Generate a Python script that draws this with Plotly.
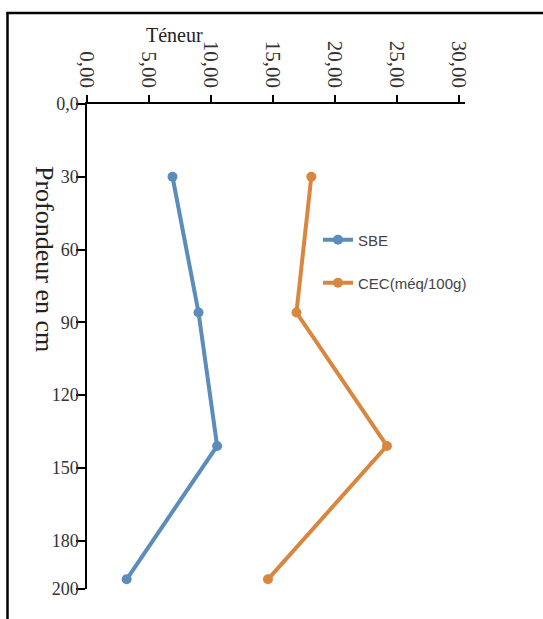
import plotly.graph_objects as go

# Soil profile: base saturation (SBE) and CEC against depth
depth_cm = [30, 86, 141, 196]
sbe = [6.9, 9.0, 10.5, 3.2]
cec = [18.1, 16.9, 24.2, 14.6]

x_ticks = [0, 5, 10, 15, 20, 25, 30]
x_tick_text = ["0,00", "5,00", "10,00", "15,00", "20,00", "25,00", "30,00"]
y_ticks = [0, 30, 60, 90, 120, 150, 180, 200]
y_tick_text = ["0,0", "30", "60", "90", "120", "150", "180", "200"]

blue = "#5b8cba"
orange = "#d9873f"

W, H = 543, 619
ML, MR, MT, MB = 87, 78, 104, 30
PW, PH = W - ML - MR, H - MT - MB


def px(x):
    return (x - ML) / PW


def py(y):
    return (H - MB - y) / PH


fig = go.Figure()
fig.add_trace(go.Scatter(
    x=sbe, y=depth_cm, mode="lines+markers", name="SBE",
    line=dict(color=blue, width=4), marker=dict(color=blue, size=10),
    legend="legend",
))
fig.add_trace(go.Scatter(
    x=cec, y=depth_cm, mode="lines+markers", name="CEC(méq/100g)",
    line=dict(color=orange, width=4), marker=dict(color=orange, size=10),
    legend="legend2",
))

x_tick_font = dict(family="Liberation Serif", size=21, color="#333333")
y_tick_font = dict(family="Liberation Serif", size=18, color="#333333")
legend_font = dict(family="Liberation Sans", size=15, color="#444444")

fig.update_layout(
    width=W, height=H,
    margin=dict(l=ML, r=MR, t=MT, b=MB),
    paper_bgcolor="white", plot_bgcolor="white",
    showlegend=True,
    xaxis=dict(
        side="top", range=[0, 30.5], tickvals=x_ticks, ticktext=x_tick_text,
        tickangle=90, ticks="outside", ticklen=7, tickwidth=1.5, tickcolor="black",
        showline=True, linecolor="black", linewidth=1.5,
        showgrid=False, zeroline=False, tickfont=x_tick_font,
    ),
    yaxis=dict(
        range=[200, 0], tickvals=y_ticks, ticktext=y_tick_text,
        ticks="outside", ticklen=9, tickwidth=1.5, tickcolor="black",
        ticklabelstandoff=-6,
        showline=True, linecolor="black", linewidth=1.5,
        showgrid=False, zeroline=False, tickfont=y_tick_font,
    ),
    legend=dict(x=px(318), y=py(240), xanchor="left", yanchor="middle",
                font=legend_font, bgcolor="rgba(0,0,0,0)"),
    legend2=dict(x=px(318), y=py(283), xanchor="left", yanchor="middle",
                 font=legend_font, bgcolor="rgba(0,0,0,0)"),
    shapes=[
        dict(type="line", xref="paper", yref="paper",
             x0=px(7.5), x1=px(7.5), y0=py(13), y1=py(630),
             line=dict(color="black", width=2.5)),
        dict(type="line", xref="paper", yref="paper",
             x0=px(6.3), x1=px(560), y0=py(13), y1=py(13),
             line=dict(color="black", width=2.5)),
    ],
    annotations=[
        dict(text="Téneur", xref="paper", yref="paper", x=px(174), y=py(35),
             showarrow=False, xanchor="center", yanchor="middle",
             font=dict(family="Liberation Serif", size=20, color="#222222")),
        dict(text="Profondeur en cm", xref="paper", yref="paper",
             x=px(45), y=py(259), textangle=90, showarrow=False,
             xanchor="center", yanchor="middle",
             font=dict(family="Liberation Serif", size=26, color="#222222")),
    ],
)

fig.write_html("out.html")
